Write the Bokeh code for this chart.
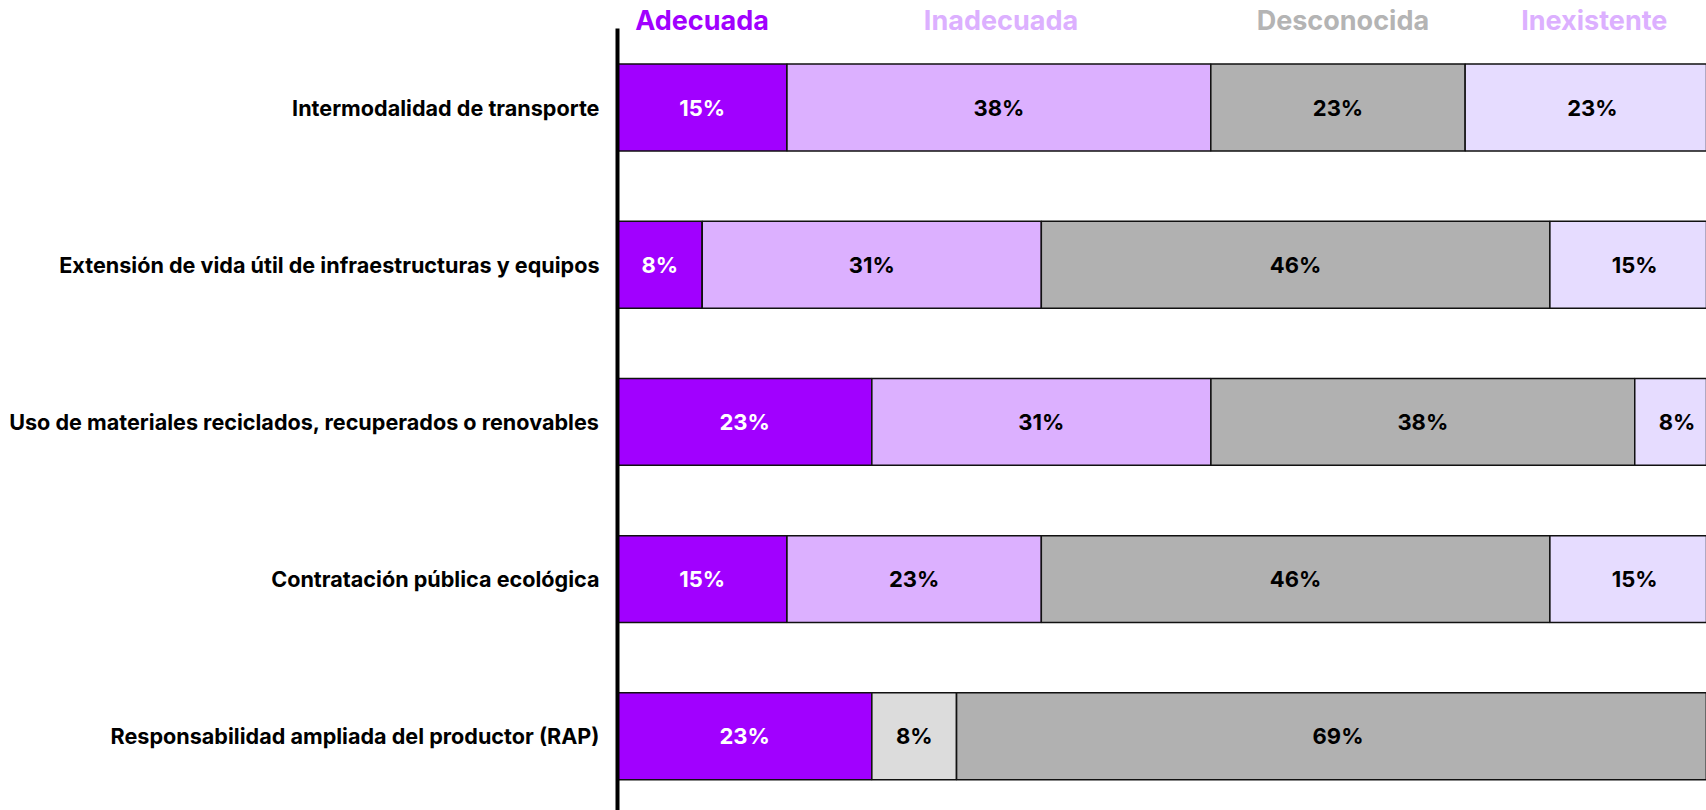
from bokeh.plotting import figure
from bokeh.models import ColumnDataSource, Range1d, FixedTicker
from bokeh.core.properties import value
from bokeh.embed import file_html
from bokeh.resources import INLINE

categories = [
    "Intermodalidad de transporte",
    "Extensión de vida útil de infraestructuras y equipos",
    "Uso de materiales reciclados, recuperados o renovables",
    "Contratación pública ecológica",
    "Responsabilidad ampliada del productor (RAP)",
]
series_names = ["Adecuada", "Otra", "Inadecuada", "Desconocida", "Inexistente"]
adecuada = [15.38, 7.69, 23.08, 15.38, 23.08]
otra = [0.0, 0.0, 0.0, 0.0, 7.69]
inadecuada = [38.46, 30.77, 30.77, 23.08, 0.0]
desconocida = [23.08, 46.15, 38.46, 46.15, 69.23]
inexistente = [23.08, 15.38, 7.69, 15.38, 0.0]
legend_names = ["Adecuada", "Inadecuada", "Desconocida", "Inexistente"]

series = [adecuada, otra, inadecuada, desconocida, inexistente]
fill_colors = ["#a100ff", "#dcdcdc", "#dcb0ff", "#b1b1b1", "#e6dcff"]
text_colors = ["#ffffff", "#000000", "#000000", "#000000", "#000000"]
legend_colors = ["#a100ff", "#dcb0ff", "#b4b4b4", "#dcb0ff"]
legend_x = [1.6, 27.8, 58.0, 82.0]

FONT = "Inter"
W, H = 1706, 810
LEFT = 617
PX_PER_PCT = 11.02
BAND = 157.2          # px per category band
FIRST_CENTER = 107    # px from top to centre of first band

pos = list(range(len(categories)))
top_val = -FIRST_CENTER / BAND
bottom_val = (H - FIRST_CENTER) / BAND

p = figure(
    width=W, height=H,
    y_range=Range1d(bottom_val, top_val),
    x_range=Range1d(0, (W - LEFT) / PX_PER_PCT),
    output_backend="svg", toolbar_location=None,
    min_border_left=LEFT, min_border_right=0, min_border_top=0, min_border_bottom=0,
)
p.outline_line_color = None
p.xgrid.visible = False
p.ygrid.visible = False
p.xaxis.visible = False
p.background_fill_color = "white"
p.border_fill_color = "white"

left = [0.0] * len(categories)
for vals, fc, tc in zip(series, fill_colors, text_colors):
    right = [l + v for l, v in zip(left, vals)]
    src = ColumnDataSource(dict(y=pos, left=left, right=right))
    p.hbar(y="y", left="left", right="right", height=0.553, source=src,
           fill_color=fc, line_color="#111111", line_width=1.5)
    idx = [i for i, v in enumerate(vals) if v > 0]
    tsrc = ColumnDataSource(dict(
        y=[pos[i] for i in idx],
        x=[(left[i] + right[i]) / 2 for i in idx],
        t=[f"{round(vals[i])}%" for i in idx],
    ))
    p.text(x="x", y="y", text="t", source=tsrc, text_align="center",
           text_baseline="middle", text_color=tc, text_font=value(FONT),
           text_font_style="bold", text_font_size="22px")
    left = right

leg_y = top_val + 20 / BAND
lsrc = ColumnDataSource(dict(x=legend_x, y=[leg_y] * len(legend_names),
                             t=legend_names, c=legend_colors))
p.text(x="x", y="y", text="t", text_color="c", source=lsrc, text_align="left",
       text_baseline="middle", text_font=value(FONT), text_font_style="bold",
       text_font_size="27px")

ax = p.yaxis[0]
ax.ticker = FixedTicker(ticks=pos)
ax.major_label_overrides = {i: c for i, c in zip(pos, categories)}
ax.bounds = (-0.5, bottom_val)
ax.axis_line_width = 4
ax.axis_line_color = "black"
ax.major_tick_line_color = None
ax.minor_tick_line_color = None
ax.major_label_standoff = 12
ax.major_label_text_font = FONT
ax.major_label_text_font_style = "bold"
ax.major_label_text_font_size = "21.6px"
ax.major_label_text_color = "black"

open("out.html", "w").write(file_html(p, INLINE))
